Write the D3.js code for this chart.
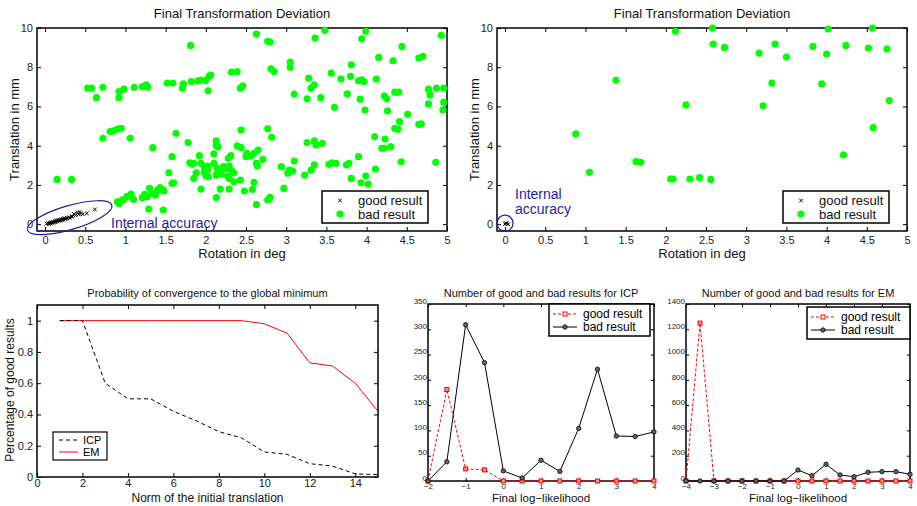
<!DOCTYPE html>
<html>
<head>
<meta charset="utf-8">
<script src="https://cdn.jsdelivr.net/npm/d3@7"></script>
<style>
  body { margin: 0; background: #fff; }
  svg { font-family: "Liberation Sans", Arial, sans-serif; }
</style>
</head>
<body>
<svg id="fig" width="917" height="506"></svg>
<script>
// ---- top left: final deviation, ICP runs
const goodRotA = [0.02,0.04,0.05,0.06,0.07,0.08,0.09,0.10,0.11,0.12,0.13,0.14,0.15,0.16,0.17,0.18,0.19,0.20,0.21,0.22,0.23,0.24,0.25,0.26,0.27,0.28,0.30,0.31,0.33,0.34,0.36,0.38,0.40,0.42,0.43,0.45,0.47,0.52,0.62]
const goodTransA = [0.02,0.05,0.00,0.08,0.04,0.10,0.06,0.12,0.08,0.15,0.10,0.18,0.14,0.20,0.16,0.22,0.19,0.25,0.20,0.27,0.22,0.30,0.26,0.28,0.33,0.30,0.35,0.32,0.40,0.38,0.52,0.45,0.60,0.50,0.62,0.55,0.50,0.55,0.75]
const badRotA = [0.53,0.58,0.64,0.72,0.92,0.92,0.98,1.11,1.21,1.24,1.28,1.26,1.52,1.59,1.71,1.72,1.82,1.90,1.94,2.00,2.06,2.04,2.03,2.32,2.39,2.43,2.46,1.81,2.63,2.77,2.80,2.81,2.85,3.05,3.05,3.10,3.26,3.28,3.36,3.48,3.31,3.35,3.43,3.56,3.60,3.68,3.76,3.81,3.80,3.92,3.90,3.94,3.97,3.94,3.99,3.98,4.12,4.15,4.22,4.25,4.26,4.33,4.35,4.40,4.44,4.51,4.41,4.35,4.39,4.65,4.70,4.77,4.79,4.77,4.87,4.93,4.96,4.96,4.95,4.65,4.68,4.43,4.86,
  0.72,0.81,0.85,0.90,0.95,1.06,1.34,1.63,1.78,2.13,2.13,2.15,2.10,2.44,2.39,2.44,2.77,2.82,2.65,2.60,2.56,2.51,2.50,2.71,3.35,3.37,3.45,3.26,4.10,4.23,4.19,4.22,4.30,4.11,
  0.15,0.33,0.90,0.92,0.96,0.98,1.02,1.07,1.10,1.21,1.24,1.27,1.29,1.30,1.33,1.37,1.40,1.43,1.46,1.48,1.47,1.54,1.58,1.58,1.60,1.80,1.83,1.85,1.85,1.88,1.92,1.94,1.94,1.98,2.02,2.02,1.98,2.00,2.03,2.10,2.14,2.17,2.19,2.13,2.13,2.18,2.22,2.25,2.29,2.32,2.28,2.31,2.29,2.27,2.29,2.35,2.35,2.43,2.48,2.58,2.60,2.63,2.64,2.63,2.77,2.80,2.94,2.97,3.02,3.04,3.08,3.10,3.23,3.31,3.35,3.53,3.57,3.62,3.75,3.78,3.81,3.90,3.93,3.99,4.02]
const badTransA = [6.93,6.93,6.45,6.98,6.76,6.45,6.88,6.98,7.00,7.05,6.98,7.10,7.19,7.19,6.93,7.15,7.27,7.30,7.35,7.32,7.60,7.53,6.80,7.75,7.78,6.93,7.05,9.11,9.69,9.32,9.28,7.92,7.78,8.26,8.00,6.63,6.39,7.44,9.49,9.88,6.93,7.10,6.45,7.70,5.95,7.40,6.64,8.12,7.53,6.37,7.31,7.36,7.27,9.45,9.83,5.82,7.40,8.50,6.54,6.39,5.77,8.33,6.73,6.73,9.06,5.60,5.23,4.89,4.84,8.47,8.55,6.88,6.59,6.13,6.93,9.62,6.93,6.22,5.82,5.09,5.11,3.18,3.15,
  4.38,4.72,4.75,4.85,4.89,4.38,3.90,4.63,4.16,4.24,4.00,3.95,3.58,4.80,3.99,3.90,4.86,4.43,3.78,3.61,3.47,3.61,3.44,3.30,4.24,4.04,4.12,4.16,4.46,4.34,3.87,3.87,3.95,2.81,
  2.28,2.28,1.14,1.05,1.22,1.25,1.40,1.53,1.26,1.35,1.52,1.40,0.77,1.82,1.57,1.48,1.74,1.86,1.77,1.69,0.72,2.62,3.44,2.08,2.11,3.13,3.05,3.10,2.33,2.62,3.49,3.10,1.79,2.93,2.96,2.79,2.64,2.47,2.42,3.10,2.84,2.76,2.56,2.50,1.35,1.79,2.93,2.84,2.96,2.73,3.36,3.49,1.79,2.45,2.33,2.62,2.16,2.25,1.69,1.77,2.13,3.10,2.96,1.00,1.23,1.36,2.93,1.82,2.59,2.76,2.71,3.22,2.50,2.76,3.02,3.05,3.13,3.10,3.02,3.10,2.33,3.44,2.11,2.45,2.04]

// ---- top right: final deviation, EM runs
const goodRotB = [0.00,0.02,0.04,0.01]
const goodTransB = [0.00,0.03,0.00,0.05]
const badRotB = [0.88,1.05,1.38,1.63,1.69,2.06,2.09,2.12,2.25,2.30,2.42,2.56,2.58,2.59,2.73,3.16,3.21,3.32,3.36,3.50,3.83,3.94,4.00,4.02,4.21,4.24,4.52,4.57,4.58,4.75,4.78]
const badTransB = [4.60,2.64,7.33,3.19,3.15,2.30,2.30,9.83,6.08,2.30,2.37,2.28,10.00,9.18,9.01,8.72,6.03,7.19,9.18,8.52,9.06,7.15,8.67,9.95,3.53,9.11,8.98,10.00,4.92,8.93,6.30]

const rotTicks = [0,0.5,1,1.5,2,2.5,3,3.5,4,4.5,5]
const transTicks = [0,2,4,6,8,10]

// ---- bottom left: convergence probability
const initNorm = [1,2,3,4,5,6,7,8,9,10,11,12,13,14,15]
const probICP = [1,1,0.60,0.50,0.50,0.42,0.36,0.29,0.25,0.16,0.145,0.085,0.07,0.02,0.015]
const probEM = [1,1,1,1,1,1,1,1,1,0.98,0.92,0.73,0.71,0.60,0.42]
const normTicks = [0,2,4,6,8,10,12,14]
const probTicks = [0,0.2,0.4,0.6,0.8,1]

// ---- bottom middle: ICP histogram
const llICP = [-2,-1.5,-1,-0.5,0,0.5,1,1.5,2,2.5,3,3.5,4]
const goodICP = [0,181,24,22,0,0,0,0,0,0,0,0,0]
const badICP = [0,38,309,234,20,6,41,19,104,221,89,88,97]
const llTicksICP = [-2,-1,0,1,2,3,4]
const cntTicksICP = [0,50,100,150,200,250,300,350]

// ---- bottom right: EM histogram
const llEM = [-4,-3.5,-3,-2.5,-2,-1.5,-1,-0.5,0,0.5,1,1.5,2,2.5,3,3.5,4]
const goodEM = [0,1249,0,0,0,0,0,0,0,0,0,0,0,0,0,0,0]
const badEM = [0,0,0,0,0,0,0,0,87,42,132,48,34,69,74,74,53]
const llTicksEM = [-4,-3,-2,-1,0,1,2,3,4]
const cntTicksEM = [0,200,400,600,800,1000,1200,1400]

const svg = d3.select('#fig')
const GREEN = '#00ff00'
const BLUE = '#1c1ca8'

// plain matlab-like tick text: 1 not 1.0, 1400 not 1,400, real minus sign
const fmt = d => d < 0 ? '\u2212' + String(-d) : String(d)

// box with inward ticks on every side, matlab style
function panel(o) {
  const x = d3.scaleLinear().domain(o.xd).range([o.l, o.r])
  const y = d3.scaleLinear().domain(o.yd).range([o.b, o.t])
  const g = svg.append('g')

  g.append('g').attr('transform', `translate(0,${o.b})`)
    .call(d3.axisBottom(x).tickValues(o.xt).tickFormat(fmt).tickSize(-o.tk).tickSizeOuter(0).tickPadding(o.xpad))
  g.append('g').attr('transform', `translate(0,${o.t})`)
    .call(d3.axisTop(x).tickValues(o.xt).tickSize(-o.tk).tickSizeOuter(0).tickFormat(''))
  g.append('g').attr('class', 'yax').attr('transform', `translate(${o.l},0)`)
    .call(d3.axisLeft(y).tickValues(o.yt).tickFormat(fmt).tickSize(-o.tk).tickSizeOuter(0).tickPadding(o.ypad))
  g.append('g').attr('transform', `translate(${o.r},0)`)
    .call(d3.axisRight(y).tickValues(o.yt).tickSize(-o.tk).tickSizeOuter(0).tickFormat(''))

  g.selectAll('.domain').remove()
  g.selectAll('.tick line').attr('stroke', '#000')
  g.selectAll('.tick text').attr('fill', '#222').style('font-size', o.fs + 'px')
  if (o.ylift) g.selectAll('.yax .tick text').attr('dy', o.ylift)

  g.append('rect')
    .attr('x', o.l).attr('y', o.t)
    .attr('width', o.r - o.l).attr('height', o.b - o.t)
    .attr('fill', 'none').attr('stroke', '#000').attr('stroke-width', 1.5)

  return { x, y, g }
}

function label(txt, x, y, size, rot, color) {
  svg.append('text')
    .attr('transform', `translate(${x},${y})` + (rot ? ' rotate(-90)' : ''))
    .attr('text-anchor', 'middle')
    .attr('fill', color || '#111')
    .style('font-size', size + 'px')
    .text(txt)
}

function crosses(g, pts, s) {
  g.selectAll(null).data(pts).enter().append('path')
    .attr('d', d => `M${d[0]-s},${d[1]-s}L${d[0]+s},${d[1]+s}M${d[0]-s},${d[1]+s}L${d[0]+s},${d[1]-s}`)
    .attr('stroke', '#000').attr('stroke-width', 1)
}

// ---------- scatter panels
function scatter(left, gx, gy, bx, by) {
  const p = panel({ l: left, r: left + 410, t: 28, b: 231, xd: [-0.1, 5], yd: [-0.35, 10],
    xt: rotTicks, yt: transTicks, tk: 4, fs: 11, xpad: 5, ypad: 4 })
  p.g.selectAll('circle.bad')
    .data(bx.map((v, i) => [v, by[i]]))
    .enter().append('circle').classed('bad', true)
    .attr('cx', d => p.x(d[0])).attr('cy', d => p.y(d[1]))
    .attr('r', 3.6).attr('fill', GREEN)
  crosses(p.g, gx.map((v, i) => [p.x(v), p.y(gy[i])]), 1.8)
  label('Final Transformation Deviation', left + 205, 18, 13)
  label('Rotation in deg', left + 205, 258, 13)
  label('Translation in mm', left - 18, 129.5, 13, true)
  return p
}

const pA = scatter(37, goodRotA, goodTransA, badRotA, badTransA)
const pB = scatter(497, goodRotB, goodTransB, badRotB, badTransB)

// internal accuracy marks
pA.g.append('ellipse')
  .attr('transform', `translate(${pA.x(0.306)},${pA.y(0.33)}) rotate(-16.4)`)
  .attr('rx', 44).attr('ry', 12)
  .attr('fill', 'none').attr('stroke', BLUE).attr('stroke-width', 1.2)
pA.g.append('text').attr('x', 111).attr('y', 228).attr('fill', BLUE)
  .style('font-size', '14px').text('Internal accuracy')

pB.g.append('circle')
  .attr('cx', pB.x(0)).attr('cy', pB.y(0.05)).attr('r', 8)
  .attr('fill', 'none').attr('stroke', BLUE).attr('stroke-width', 1.2)
pB.g.append('text').attr('x', 515).attr('y', 199).attr('fill', BLUE)
  .style('font-size', '14px').text('Internal')
pB.g.append('text').attr('x', 515).attr('y', 214).attr('fill', BLUE)
  .style('font-size', '14px').text('accuracy')

// scatter legends
function scatterLegend(x0) {
  const lg = svg.append('g').attr('transform', `translate(${x0},191)`)
  lg.append('rect').attr('width', 106).attr('height', 32)
    .attr('fill', '#fff').attr('stroke', '#000').attr('stroke-width', 1.5)
  crosses(lg, [[18, 9.5]], 1.8)
  lg.append('circle').attr('cx', 18).attr('cy', 23).attr('r', 3.6).attr('fill', GREEN)
  lg.append('text').attr('x', 36).attr('y', 14).style('font-size', '13px').attr('fill', '#111').text('good result')
  lg.append('text').attr('x', 36).attr('y', 28).style('font-size', '13px').attr('fill', '#111').text('bad result')
}
scatterLegend(322)
scatterLegend(783)

// ---------- convergence panel
const pC = panel({ l: 37, r: 378, t: 305, b: 477, xd: [0, 15], yd: [0, 1.1],
  xt: normTicks, yt: probTicks, tk: 4, fs: 11, xpad: 2, ypad: 4 })
const line = d3.line().x(d => pC.x(d[0])).y(d => pC.y(d[1]))
pC.g.append('path').attr('d', line(initNorm.map((v, i) => [v, probEM[i]])))
  .attr('fill', 'none').attr('stroke', '#ff0000').attr('stroke-width', 1)
pC.g.append('path').attr('d', line(initNorm.map((v, i) => [v, probICP[i]])))
  .attr('fill', 'none').attr('stroke', '#000').attr('stroke-width', 1).attr('stroke-dasharray', '4,3')
label('Probability of convergence to the global minimum', 207.5, 297, 11)
label('Norm of the initial translation', 207.5, 502, 12)
label('Percentage of good results', 14, 390, 12, true)

const lgC = svg.append('g').attr('transform', 'translate(53,432)')
lgC.append('rect').attr('width', 54).attr('height', 28)
  .attr('fill', '#fff').attr('stroke', '#000').attr('stroke-width', 1.2)
lgC.append('line').attr('x1', 6).attr('x2', 25).attr('y1', 8).attr('y2', 8)
  .attr('stroke', '#000').attr('stroke-dasharray', '4,3')
lgC.append('line').attr('x1', 6).attr('x2', 25).attr('y1', 20).attr('y2', 20).attr('stroke', '#ff0000')
lgC.append('text').attr('x', 30).attr('y', 12).style('font-size', '11px').text('ICP')
lgC.append('text').attr('x', 30).attr('y', 24).style('font-size', '11px').text('EM')

// ---------- histogram panels
function hist(o, xs, good, bad, ttl) {
  const p = panel(Object.assign({ t: 304, b: 481, tk: 3, fs: 8, xpad: 2.5, ypad: 1, ylift: '-0.1em' }, o))
  const ln = d3.line().x(d => p.x(d[0])).y(d => p.y(d[1]))
  const gp = xs.map((v, i) => [v, good[i]])
  const bp = xs.map((v, i) => [v, bad[i]])
  p.g.append('path').attr('d', ln(gp)).attr('fill', 'none')
    .attr('stroke', '#ff0000').attr('stroke-width', 1).attr('stroke-dasharray', '3,2')
  p.g.selectAll('rect.good').data(gp).enter().append('rect').classed('good', true)
    .attr('x', d => p.x(d[0]) - 2).attr('y', d => p.y(d[1]) - 2)
    .attr('width', 4).attr('height', 4)
    .attr('fill', '#ff9090').attr('stroke', '#ff0000').attr('stroke-width', 1)
  p.g.append('path').attr('d', ln(bp)).attr('fill', 'none')
    .attr('stroke', '#000').attr('stroke-width', 1)
  p.g.selectAll('circle.badh').data(bp).enter().append('circle').classed('badh', true)
    .attr('cx', d => p.x(d[0])).attr('cy', d => p.y(d[1])).attr('r', 2.2)
    .attr('fill', '#666').attr('stroke', '#000').attr('stroke-width', 0.8)
  const cx = (o.l + o.r) / 2
  label(ttl, cx, 297, 11)
  label('Final log\u2212likelihood', cx, 502, 11.5)
  return p
}

function histLegend(x0, y0, w) {
  const lg = svg.append('g').attr('transform', `translate(${x0},${y0})`)
  lg.append('rect').attr('width', w).attr('height', 32)
    .attr('fill', '#fff').attr('stroke', '#000').attr('stroke-width', 1.5)
  lg.append('line').attr('x1', 4).attr('x2', 28).attr('y1', 10).attr('y2', 10)
    .attr('stroke', '#ff0000').attr('stroke-dasharray', '3,2')
  lg.append('rect').attr('x', 14).attr('y', 8).attr('width', 4).attr('height', 4)
    .attr('fill', '#fff').attr('stroke', '#ff0000')
  lg.append('line').attr('x1', 4).attr('x2', 28).attr('y1', 23).attr('y2', 23).attr('stroke', '#000')
  lg.append('circle').attr('cx', 16).attr('cy', 23).attr('r', 2.2)
    .attr('fill', '#666').attr('stroke', '#000').attr('stroke-width', 0.8)
  lg.append('text').attr('x', 34).attr('y', 14).style('font-size', '12px').text('good result')
  lg.append('text').attr('x', 34).attr('y', 27).style('font-size', '12px').text('bad result')
}

hist({ l: 428, r: 654, xd: [-2, 4], yd: [0, 350], xt: llTicksICP, yt: cntTicksICP },
  llICP, goodICP, badICP, 'Number of good and bad results for ICP')
histLegend(549, 304, 101)

hist({ l: 686, r: 910, xd: [-4, 4], yd: [0, 1400], xt: llTicksEM, yt: cntTicksEM },
  llEM, goodEM, badEM, 'Number of good and bad results for EM')
histLegend(807, 307, 103)
</script>
</body>
</html>
